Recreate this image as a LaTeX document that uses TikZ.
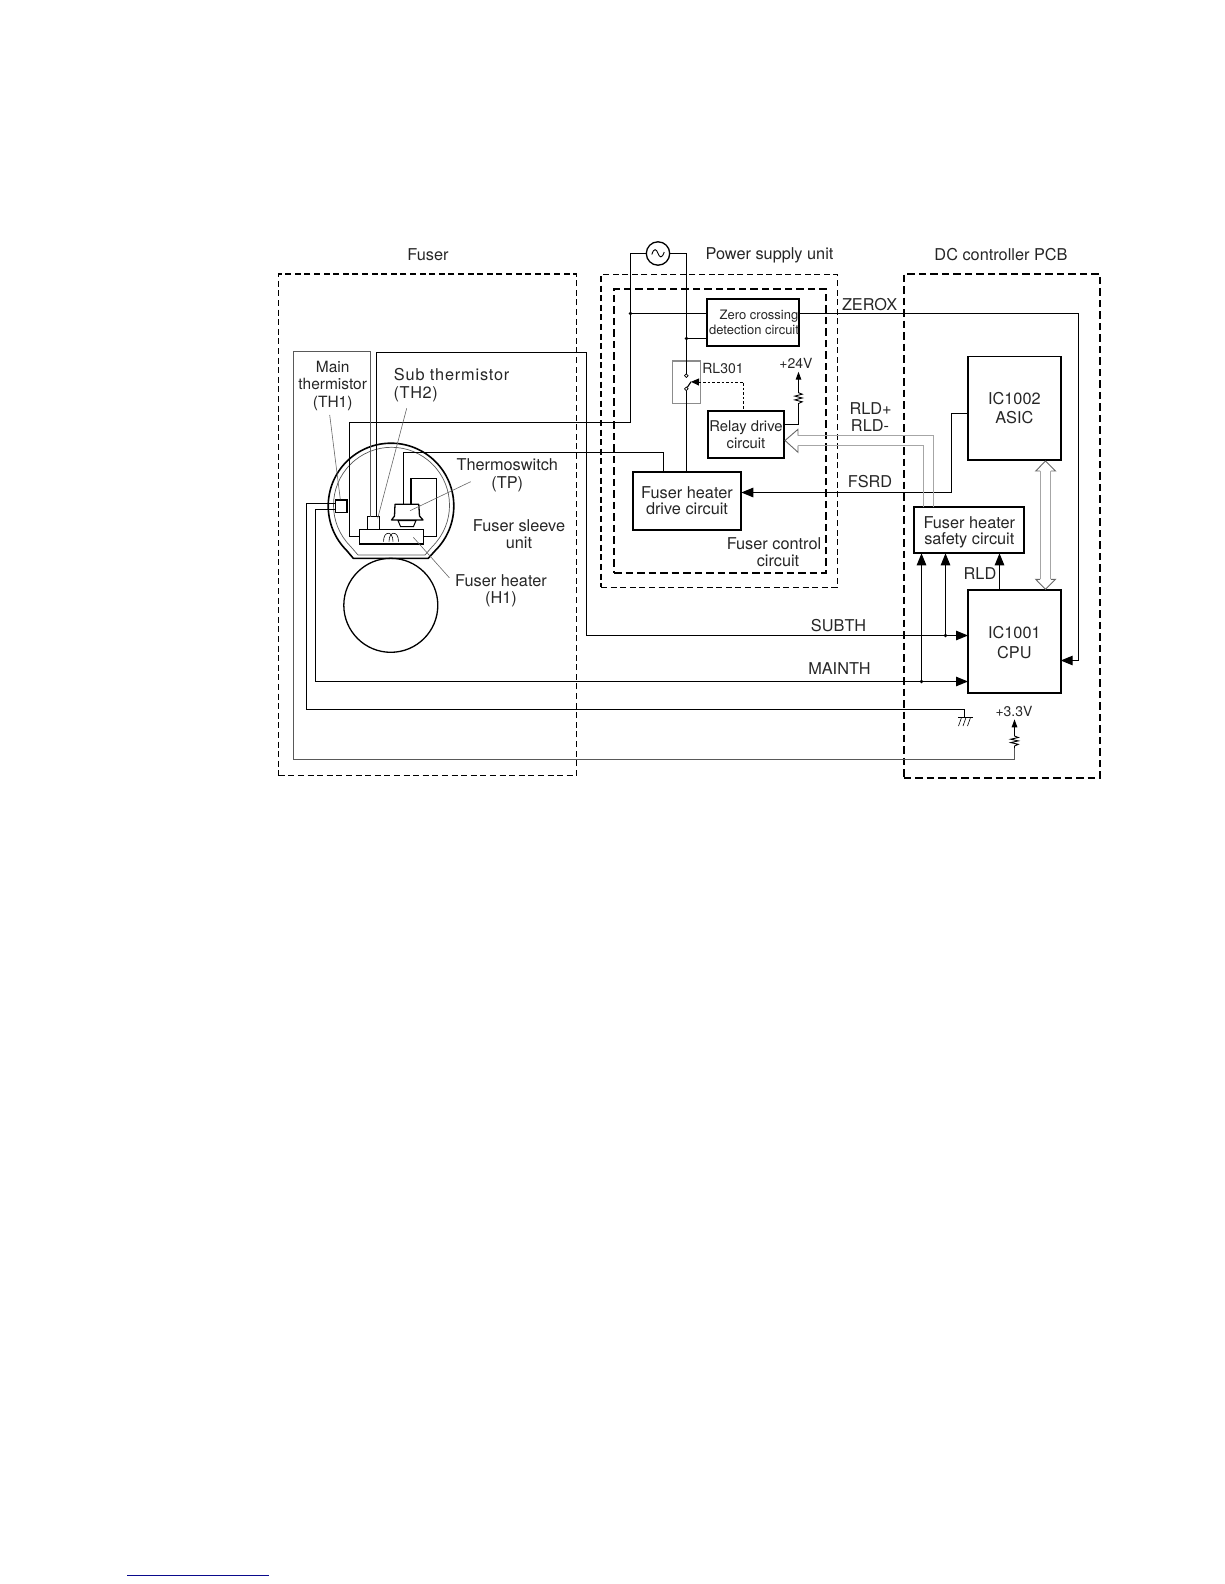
\documentclass[tikz,border=0pt]{standalone}
\usepackage{fontspec}
\setmainfont{TeX Gyre Heros}
\usetikzlibrary{arrows.meta,calc}
\newcommand\bx[7][]{%
  \pgfmathsetmacro\bxw{#5-#3}\pgfmathsetmacro\bxh{#6-#4}%
  \pgfmathsetmacro\bxx{(#3+#5)/2}\pgfmathsetmacro\bxy{(#4+#6)/2}%
  \node[minimum width=\bxw pt,minimum height=\bxh pt,#1] (#2) at (\bxx,\bxy) {#7};}
\tikzset{
  lab/.style={font=\fontsize{16.3}{17}\selectfont,inner sep=0pt,align=center,text=black!85},
  smalllab/.style={font=\fontsize{13}{15}\selectfont,inner sep=0pt,align=center,text=black!85},
  midlab/.style={font=\fontsize{14}{15}\selectfont,inner sep=0pt,align=center,text=black!85},
  wire/.style={line width=1.1pt,black},
  greywire/.style={line width=.9pt,black!65},
  leader/.style={line width=.6pt,black!60},
  dashthin/.style={draw,line width=1.1pt,dash pattern=on 6pt off 3.6pt,inner sep=0,outer sep=0},
  dashthick/.style={draw,line width=2pt,dash pattern=on 7.5pt off 4pt,inner sep=0,outer sep=0},
  block/.style={draw,line width=1.7pt,inner sep=0,outer sep=0,align=center,font=\fontsize{16.3}{16.5}\selectfont,text=black!85},
  part/.style={draw,line width=1.3pt,inner sep=0,outer sep=0},
  dot/.style={circle,fill=black,inner sep=0,minimum size=3.6pt,outer sep=0},
  contact/.style={circle,draw,fill=white,line width=.7pt,inner sep=0,minimum size=3.6pt,outer sep=0},
  big/.style={-{Triangle[length=12pt,width=9.5pt]}},
  tiny/.style={-{Triangle[length=8pt,width=5.5pt]}},
  hollow/.style={draw=black!60,fill=white,line width=.9pt,line join=miter},
  shaft/.style={line width=1.2pt,black!35},
}
\begin{document}
\begin{tikzpicture}[x=1pt,y=-1pt]
\useasboundingbox (0,0) rectangle (1224,1584);

% dashed enclosures
\bx[dashthin]{fuserbox}{278.7}{274}{576.5}{775.6}{}
\bx[dashthin]{psubox}{601}{274.3}{837.3}{587.3}{}
\bx[dashthick]{fccbox}{614}{289}{825.7}{572.7}{}
\bx[dashthick]{dcbox}{903.7}{274}{1100}{777.7}{}

% section titles
\node[lab] (tFuser) at (428,255) {Fuser};
\node[lab] (tPsu) at (769.5,255.5) {Power supply unit};
\node[lab] (tDc) at (1001,255) {DC controller PCB};

% fuser sleeve and roller
\draw[line width=1.6pt,line join=round] (353.3,558.3) -- (346.6,550.4) arc[start angle=135,end angle=405,radius=62.8] -- (428.3,558.3) -- cycle;
\draw[line width=.7pt,black!65] (358,555) -- (350.5,546.3) arc[start angle=135,end angle=405,radius=58] -- (425,555) -- cycle;
\node[circle,draw,line width=1.3pt,minimum size=94pt,inner sep=0,outer sep=0] (roller) at (390.8,605.3) {};

% fuser parts
\bx[part,fill=white]{heater}{359.3}{529.3}{423.3}{544}{}
\bx[part,fill=white]{th1}{335.7}{500}{347}{512.3}{}
\bx[part,fill=white]{th2}{367.7}{516.7}{379.3}{529.3}{}
\draw[line width=.6pt] (383.5,541.5) .. controls (383.5,530.5) and (393,530.5) .. (393,541.5) (389,541.5) .. controls (389,530.5) and (398.5,530.5) .. (398.5,541.5);
\draw[part,line join=round,fill=white] (395,504.3) -- (418.8,504.3) -- (419.5,516) -- (423,520) -- (391.5,520) -- (394.5,516) -- cycle;
\draw[line width=1pt,fill=white] (398,520.5) -- (416,520.5) -- (413.5,526.5) -- (400.5,526.5) -- cycle;
\coordinate (tsA) at (403.5,504.3);
\coordinate (tsB) at (411,504.3);

% power supply unit blocks
\node[circle,draw,line width=1.3pt,minimum size=23.4pt,inner sep=0,outer sep=0] (ac) at (658,253.5) {};
\draw[line width=.9pt] (651.8,254.5) .. controls (654,247.5) and (656.5,249) .. (658,253.3) .. controls (659.5,257.5) and (662,259) .. (664.2,252);
\bx[block]{zc}{706.7}{299.3}{799.3}{346}{}
\bx[draw=black!45,line width=1.1pt,inner sep=0,outer sep=0]{rl}{672.7}{361}{700.3}{403.3}{}
\bx[block,font=\fontsize{14.8}{16.5}\selectfont]{relay}{707.7}{410.7}{784.3}{458.3}{Relay drive\\[.5pt]circuit}
\bx[block]{drive}{632.7}{471.7}{741.3}{530}{Fuser heater\\drive circuit}
\node[contact] (cU) at (686.3,375.7) {};
\node[contact] (cL) at (686.3,388.8) {};
\coordinate (blade) at (691,381.8);
\coordinate (relayTap) at (743.5,382);

% DC controller blocks
\bx[block]{asic}{968}{356.5}{1060.7}{460}{IC1002\\[2pt]ASIC}
\bx[block]{cpu}{968}{590}{1060.7}{692.7}{\rule{0pt}{15pt}IC1001\\[3pt]CPU}
\bx[block]{safety}{914.3}{507}{1024.3}{553.3}{\rule{0pt}{16pt}Fuser heater\\safety circuit}

% junction dots
\node[dot] (dLine) at (630.5,313.5) {};
\node[dot] (dNeut) at (686.5,338.5) {};
\node[dot] (dSub) at (945.5,635.5) {};
\node[dot] (dMain) at (921.5,681.5) {};

% mains wiring
\coordinate (mainsA) at (630.5,422.5);
\coordinate (mainsB) at (349.5,422.5);
\draw[wire] (ac.west) -| (mainsA) -- (mainsB) |- (heater.west);
\draw[wire] (ac.east) -| (cU.north);
\draw[wire] (cL.south) -- (cL |- drive.north);
\draw[wire] (dLine) -- (dLine -| zc.west);
\draw[wire] (dNeut) -- (dNeut -| zc.west);
\draw[wire] (cL) -- (blade);
\coordinate (tipS) at (698.5,382);
\draw[wire,-{Triangle[length=8pt,width=7pt]}] (tipS) -- (blade);
\draw[dash pattern=on 2.6pt off 2pt,line width=.9pt] (tipS) -- (relayTap) -- (relayTap |- relay.north);

% thermoswitch wiring
\coordinate (tsC) at (663.5,452.5);
\coordinate (tsD) at (411,478.3);
\coordinate (tsE) at (436.7,478.3);
\draw[wire] (tsA) |- (tsC) -- (tsC |- drive.north);
\draw[wire] (tsB) -- (tsD) -- (tsE) |- (heater.east);

% thermistor wiring
\coordinate (th1A) at (306.5,503.5);
\coordinate (th1B) at (315.5,509.5);
\coordinate (subA) at (376.5,352.5);
\coordinate (subB) at (586.5,352.5);
\coordinate (gnd) at (964.5,709.5);
\coordinate (r33) at (1014.5,748);
\coordinate (r33top) at (1014.5,733);
\coordinate (tip33) at (1014.5,719.3);
\coordinate (grA) at (293.5,351.5);
\coordinate (grB) at (370.5,351.5);
\draw[greywire] (r33) -- ++(0,11.5) -| (grA) -- (grB) -- (grB |- th2.north);
\draw[wire] (th1.west |- th1A) -- (th1A) |- (gnd) -- ++(0,8);
\draw[line width=.8pt] (958,717.5) -- (972.7,717.5);
\draw[line width=.6pt] (961.5,717.5) -- (958.5,726) (966,717.5) -- (963,726) (970.5,717.5) -- (967.5,726);
\draw[wire,big] (th1.west |- th1B) -- (th1B) |- (cpu.west |- dMain);
\draw[wire] (th2.north -| subA) -- (subA) -- (subB) |- (dSub);
\draw[wire,big] (dSub) -- (dSub -| cpu.west);
\draw[wire,big] (dSub) -- (dSub |- safety.south);
\draw[wire,big] (dMain) -- (dMain |- safety.south);

% 3.3 V pull up
\draw[line width=.9pt] (r33) -- ++(0,-2) -- ++(3.8,-1.7) -- ++(-7.6,-1.7) -- ++(7.6,-1.7) -- ++(-7.6,-1.7) -- ++(7.6,-1.7) -- ++(-3.8,-1.5) -- (r33top);
\draw[wire,tiny] (r33top) -- (tip33);

% zero crossing signal
\coordinate (zxA) at (1078.5,313.5);
\coordinate (zxB) at (1078.5,660.5);
\draw[wire] (zc.east |- zxA) -- (zxA) -- (zxB);
\draw[wire,big] (zxB) -- (zxB -| cpu.east);

% FSRD
\coordinate (fsA) at (951.5,413.5);
\coordinate (fsB) at (951.5,492.5);
\draw[wire] (asic.west |- fsA) -- (fsA) -- (fsB);
\draw[wire,big] (fsB) -- (fsB -| drive.east);

% RLD
\draw[wire,big] (999.5,590) -- (999.5,553.3);

% +24 V pull up
\coordinate (r24a) at (798.5,405);
\coordinate (r24b) at (798.5,390);
\coordinate (tip24) at (798.5,371.7);
\coordinate (r24s) at (784.3,424.5);
\draw[wire] (r24s) -| (r24a);
\draw[line width=.9pt] (r24a) -- ++(0,-1.5) -- ++(3.7,-1.7) -- ++(-7.4,-1.9) -- ++(7.4,-1.9) -- ++(-7.4,-1.9) -- ++(7.4,-1.9) -- ++(-3.7,-1.5) -- (r24b);
\draw[wire,tiny] (r24b) -- (tip24);

% RLD+/RLD- hollow bus
\coordinate (rlA) at (933.5,435.5);
\coordinate (rlB) at (923.5,445.5);
\draw[shaft] (rlA |- safety.north) -- (rlA) -- (797,435.5);
\draw[shaft] (rlB |- safety.north) -- (rlB) -- (797,445.5);
\draw[hollow] (798,435.5) -- (798,429.3) -- (785,440.5) -- (798,452.3) -- (798,445.5);

% ASIC to CPU hollow bus
\draw[shaft] (1040.2,471) -- (1040.2,579.3);
\draw[shaft] (1050.8,471) -- (1050.8,579.3);
\draw[hollow] (1040.2,471) -- (1035.7,471) -- (1045.5,461) -- (1055.5,471) -- (1050.8,471);
\draw[hollow] (1040.2,579.3) -- (1035.7,579.3) -- (1045.5,589.3) -- (1055.5,579.3) -- (1050.8,579.3);

% leaders
\coordinate (lA) at (329.7,415);
\coordinate (lB) at (406.7,408.3);
\coordinate (lC) at (470.7,481.7);
\coordinate (lD) at (449.3,577.7);
\draw[leader] (lA) -- (340.3,499.3);
\draw[leader] (lB) -- (377.7,518.3);
\draw[leader] (lC) -- (410,510.7);
\draw[leader] (lD) -- (413.3,537.3);

% labels
\node[lab,font=\fontsize{15.5}{17}\selectfont] (lMain) at (332.7,385.8) {Main\\[.5pt]thermistor\\[.5pt](TH1)};
\node[lab] (lSub) at (451.7,374.3) {\addfontfeature{LetterSpace=5}Sub thermistor};
\node[lab] (lTh2) at (415.7,394) {\addfontfeature{LetterSpace=4}(TH2)};
\node[lab] (lTs) at (507.3,475.5) {Thermoswitch\\[1pt](TP)};
\node[lab] (lSl) at (519,533.7) {Fuser sleeve\\unit};
\node[lab] (lHt) at (501,590.5) {Fuser heater\\(H1)};
\node[lab] (lFc) at (778,552) {\hspace*{-8pt}Fuser control\\circuit};
\node[smalllab] (lZc) at (754,322) {\hspace*{10pt}Zero crossing\\detection circuit};
\node[midlab] (lRl) at (723,368) {RL301};
\node[midlab] (l24) at (796,363.5) {+24V};
\node[midlab] (l33) at (1014,711) {+3.3V};
\node[lab] (lZx) at (869.6,305) {ZEROX};
\node[lab] (lRp) at (870.6,409) {RLD+};
\node[lab] (lRm) at (870,425.5) {RLD-};
\node[lab] (lFs) at (870,482) {FSRD};
\node[lab] (lSt) at (838.6,626) {SUBTH};
\node[lab] (lMt) at (839.5,669) {MAINTH};
\node[lab] (lRld) at (980,574) {RLD};

% footer rule
\coordinate (ruleA) at (127,1575);
\coordinate (ruleB) at (269,1575);
\draw[line width=1pt,color={rgb,255:red,10;green,10;blue,140}] (ruleA) -- (ruleB);
\end{tikzpicture}
\end{document}
